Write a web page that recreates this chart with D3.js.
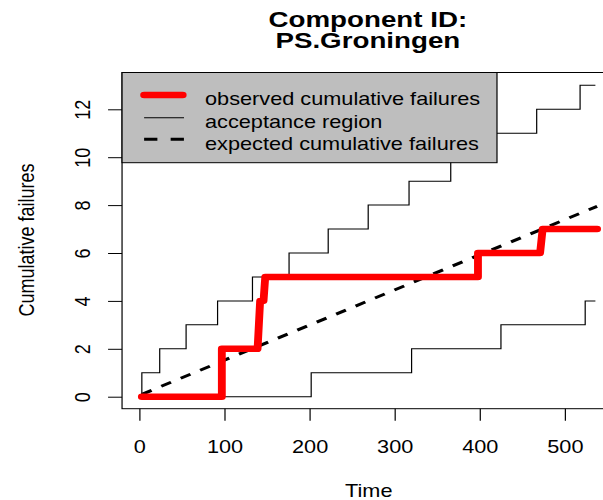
<!DOCTYPE html>
<html>
<head>
<meta charset="utf-8">
<script src="https://cdn.jsdelivr.net/npm/d3@7"></script>
<style>
body { margin: 0; background: #fff; }
svg { display: block; font-family: "Liberation Sans", Arial, Helvetica, sans-serif; }
</style>
</head>
<body>
<script>
// observed cumulative failures (time, count)
var obsTime = [3, 97, 97, 139, 142, 146, 148, 398, 398, 471, 474, 538];
var obsCount = [0, 0, 2, 2, 4, 4, 5, 5, 6, 6, 7, 7];

// acceptance region, upper and lower bounds (steps)
var upperTime = [3, 3, 24, 55, 92, 133, 176, 222, 269, 317, 366, 415, 467, 518, 536];
var upperCount = [0, 1, 2, 3, 4, 5, 6, 7, 8, 9, 10, 11, 12, 13, 13];
var lowerTime = [3, 202, 320, 425, 524, 536];
var lowerCount = [0, 1, 2, 3, 4, 4];

// expected cumulative failures
var expTime = [3, 538];
var expCount = [0.1, 7.95];

var xTicks = [0, 100, 200, 300, 400, 500];
var yTicks = [0, 2, 4, 6, 8, 10, 12];
var legendLabels = ["observed cumulative failures", "acceptance region", "expected cumulative failures"];

window.onload = drawChart();

function drawChart(){

    // the picture is a 500x500 plot stretched to 603 wide
    var svg = d3.select("body")
        .append("svg")
        .attr("width", 603)
        .attr("height", 500)
        .attr("viewBox", "0 0 500 500")
        .attr("preserveAspectRatio", "none");

    var left = 101.2, top = 72.5, bottom = 408.7;

    var x = d3.scaleLinear()
        .domain([0, 500])
        .range([115.5, 468.3]);

    var y = d3.scaleLinear()
        .domain([0, 12])
        .range([396.7, 109.3]);

    function toPoints(t, v){
        return t.map(function(d, i){ return [d, v[i]]; });
    }

    var line = d3.line()
        .x(function(d){ return x(d[0]); })
        .y(function(d){ return y(d[1]); });

    var stepLine = d3.line()
        .x(function(d){ return x(d[0]); })
        .y(function(d){ return y(d[1]); })
        .curve(d3.curveStepAfter);

    // plot box (right side runs off the picture)
    svg.append("rect")
        .attr("x", left)
        .attr("y", top)
        .attr("width", 430)
        .attr("height", bottom - top)
        .attr("fill", "none")
        .attr("stroke", "#000")
        .attr("stroke-width", 1);

    // axes
    var xAxis = svg.append("g")
        .attr("transform", "translate(0," + bottom + ")")
        .call(d3.axisBottom(x).tickValues(xTicks).tickSize(12).tickFormat(d3.format("d")));
    xAxis.select(".domain").remove();
    xAxis.selectAll("line").attr("stroke", "#000");
    xAxis.selectAll("text")
        .attr("y", 44.6)
        .attr("dy", 0)
        .attr("fill", "#000")
        .style("font-size", "18px");

    var yAxis = svg.append("g")
        .attr("transform", "translate(" + left + ",0)")
        .call(d3.axisLeft(y).tickValues(yTicks).tickSize(11.6).tickFormat(d3.format("d")));
    yAxis.select(".domain").remove();
    yAxis.selectAll("line").attr("stroke", "#000");
    yAxis.selectAll("text")
        .attr("transform", "rotate(-90)")
        .attr("x", 0)
        .attr("y", -26.6)
        .attr("dy", 0)
        .attr("text-anchor", "middle")
        .attr("fill", "#000")
        .style("font-size", "18px");

    // acceptance region
    svg.append("path")
        .attr("d", stepLine(toPoints(upperTime, upperCount)))
        .attr("fill", "none")
        .attr("stroke", "#000")
        .attr("stroke-width", 1);

    svg.append("path")
        .attr("d", stepLine(toPoints(lowerTime, lowerCount)))
        .attr("fill", "none")
        .attr("stroke", "#000")
        .attr("stroke-width", 1);

    // expected
    svg.append("path")
        .attr("d", line(toPoints(expTime, expCount)))
        .attr("fill", "none")
        .attr("stroke", "#000")
        .attr("stroke-width", 3)
        .attr("stroke-dasharray", "9,9");

    // observed
    svg.append("path")
        .attr("d", line(toPoints(obsTime, obsCount)))
        .attr("fill", "none")
        .attr("stroke", "#ff0000")
        .attr("stroke-width", 6.5)
        .attr("stroke-linecap", "round")
        .attr("stroke-linejoin", "round");

    // legend
    var legend = svg.append("g");
    legend.append("rect")
        .attr("x", left)
        .attr("y", top)
        .attr("width", 310.9)
        .attr("height", 90.2)
        .attr("fill", "#bebebe")
        .attr("stroke", "#000")
        .attr("stroke-width", 1);

    var rowY = [95, 117.7, 139.3];
    var styles = [
        {color: "#ff0000", width: 6.5, dash: null, cap: "round"},
        {color: "#000", width: 1, dash: null, cap: "butt"},
        {color: "#000", width: 3, dash: "11,11", cap: "butt"}
    ];
    legendLabels.forEach(function(lab, i){
        legend.append("line")
            .attr("x1", 119.5)
            .attr("x2", i == 0 ? 151.5 : 152.6)
            .attr("y1", rowY[i])
            .attr("y2", rowY[i])
            .attr("stroke", styles[i].color)
            .attr("stroke-width", styles[i].width)
            .attr("stroke-linecap", styles[i].cap)
            .attr("stroke-dasharray", styles[i].dash);
        legend.append("text")
            .attr("x", 170)
            .attr("y", rowY[i] + 10.3)
            .style("font-size", "18px")
            .text(lab);
    });

    // titles
    var title = svg.append("text")
        .attr("text-anchor", "middle")
        .style("font-size", "23px")
        .style("font-weight", "bold");
    title.append("tspan").attr("x", 305).attr("y", 27).text("Component ID:");
    title.append("tspan").attr("x", 305).attr("y", 47.8).text("PS.Groningen");

    svg.append("text")
        .attr("x", 305.8)
        .attr("y", 496.7)
        .attr("text-anchor", "middle")
        .style("font-size", "18px")
        .text("Time");

    svg.append("text")
        .attr("transform", "translate(28.2,240) rotate(-90)")
        .attr("text-anchor", "middle")
        .style("font-size", "18px")
        .text("Cumulative failures");
};
</script>
</body>
</html>
